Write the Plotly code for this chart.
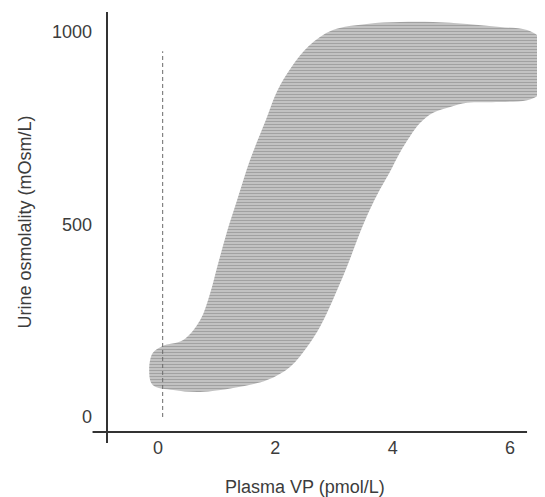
import plotly.graph_objects as go

# Band outline (pmol/L, mOsm/L)
upper_x = [0.07, 0.43, 0.72, 0.89, 1.01, 1.17, 1.35, 1.57, 1.84, 2.03, 2.27, 2.57, 2.98, 3.56, 4.13, 4.69, 5.27, 5.83, 6.29, 6.51, 6.58, 6.56, 6.48]
upper_y = [184, 200, 252, 322, 390, 478, 564, 668, 772, 846, 908, 964, 1005, 1021, 1026, 1026, 1021, 1013, 1005, 984, 940, 875, 836]
lower_x = [6.29, 5.83, 5.27, 4.98, 4.69, 4.47, 4.30, 4.12, 3.95, 3.78, 3.61, 3.44, 3.22, 2.98, 2.76, 2.54, 2.25, 1.86, 1.28, 0.72, 0.26, -0.09, -0.15, -0.09, 0.07]
lower_y = [823, 818, 816, 805, 790, 764, 730, 686, 636, 590, 538, 478, 390, 304, 234, 182, 130, 96, 75, 65, 70, 83, 122, 166, 184]

threshold_x = [0.08, 0.08]
threshold_y = [0, 950]

x_ticks = [0, 2, 4, 6]
y_ticks = [0, 500, 1000]

band_x = upper_x + lower_x
band_y = upper_y + lower_y

fig = go.Figure()
fig.add_trace(go.Scatter(
    x=band_x, y=band_y, mode="lines", fill="toself",
    line=dict(width=0, shape="spline", smoothing=1.0, color="rgba(0,0,0,0)"),
    fillcolor="#bdbdbd",
    fillpattern=dict(shape="-", fgcolor="#7a7a7a", bgcolor="#c8c8c8", size=3, solidity=0.45),
    hoverinfo="skip", showlegend=False))
fig.add_trace(go.Scatter(
    x=threshold_x, y=threshold_y, mode="lines",
    line=dict(color="#6a6a6a", width=1, dash="4px,3px"),
    hoverinfo="skip", showlegend=False))

font = dict(family="Liberation Sans, Arial, sans-serif", size=18, color="#3c3c3c")

# page body has an 8px default margin, so the figure is sized 8px smaller
fig.update_layout(
    width=537, height=489,
    margin=dict(l=99, r=0, t=4, b=65),
    plot_bgcolor="white", paper_bgcolor="white",
    font=font,
    xaxis=dict(range=[-0.869, 6.596], tickvals=x_ticks, showgrid=False, zeroline=False,
               showline=False, ticks="", ticklabelstandoff=3, automargin=False),
    yaxis=dict(range=[-39, 1052], tickvals=y_ticks, showgrid=False, zeroline=False,
               showline=False, ticks="", ticklabelstandoff=14, automargin=False,
               title=dict(text="Urine osmolality (mOsm/L)", standoff=15, font=font)),
)
fig.add_annotation(text="Plasma VP (pmol/L)", xref="paper", yref="paper",
                   x=0.452, y=-0.131, xanchor="center", yanchor="middle",
                   showarrow=False, font=font)
# axis lines (crossing, as in the reference)
fig.add_shape(type="line", xref="paper", yref="paper", x0=-0.033, x1=0.959, y0=0, y1=0,
              line=dict(color="#333333", width=2))
fig.add_shape(type="line", xref="paper", yref="paper", x0=0, x1=0, y0=-0.026, y1=1,
              line=dict(color="#333333", width=2))

fig.write_html("out.html")
